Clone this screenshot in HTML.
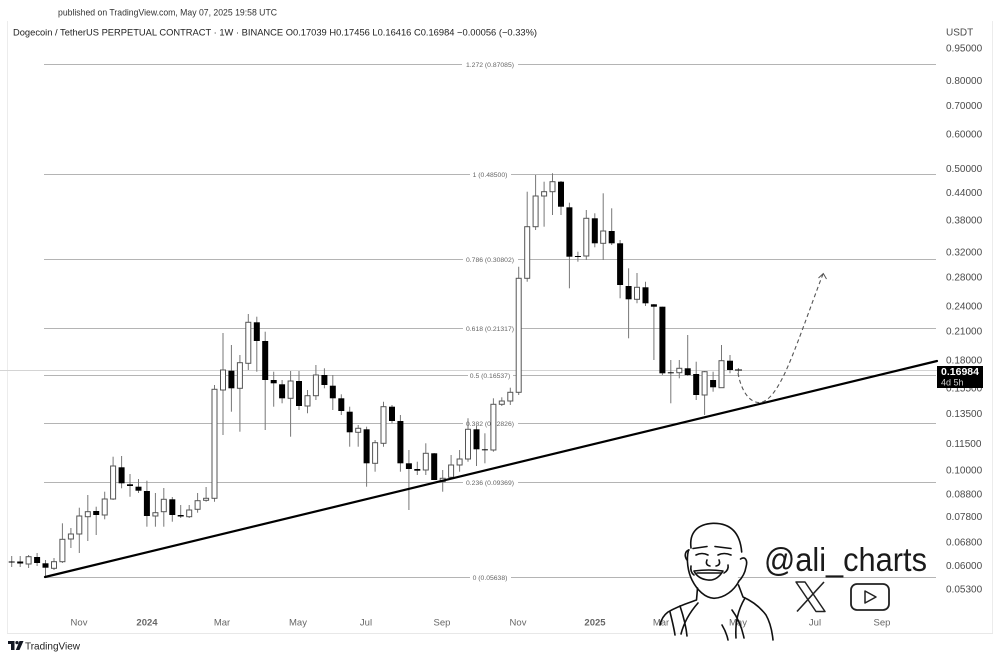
<!DOCTYPE html>
<html><head><meta charset="utf-8">
<style>
html,body{margin:0;padding:0;background:#fff;}
svg{display:block;}
text{font-family:"Liberation Sans",sans-serif;}
.wk{stroke:#777;stroke-width:1;}
.bb{fill:#000;}
.ob{fill:#fff;stroke:#555;stroke-width:1;}
.fib{stroke:#b4b4b4;stroke-width:1;}
.fl{font-size:6.8px;fill:#666;text-anchor:middle;}
.ax{font-size:10px;fill:#4a4a4a;}
.tm{font-size:9.5px;fill:#666;text-anchor:middle;}
.av{fill:none;stroke:#111;stroke-width:1.6;stroke-linecap:round;stroke-linejoin:round;}
</style></head>
<body>
<svg width="1000" height="658" viewBox="0 0 1000 658" xmlns="http://www.w3.org/2000/svg">
<rect x="0" y="0" width="1000" height="658" fill="#fff"/>
<!-- header -->
<text x="58" y="15.5" font-size="9.3" fill="#333" textLength="219" lengthAdjust="spacingAndGlyphs">published on TradingView.com, May 07, 2025 19:58 UTC</text>
<text x="13" y="35.5" font-size="9.5" fill="#222" textLength="524" lengthAdjust="spacingAndGlyphs">Dogecoin / TetherUS PERPETUAL CONTRACT · 1W · BINANCE  O0.17039  H0.17456  L0.16416  C0.16984  −0.00056 (−0.33%)</text>

<!-- frame -->
<line x1="7.5" y1="21" x2="7.5" y2="633" stroke="#ececec"/>
<line x1="7" y1="633.5" x2="993" y2="633.5" stroke="#e8e8e8"/>
<line x1="992.5" y1="21" x2="992.5" y2="633" stroke="#ececec"/>

<!-- current price line -->
<line x1="0" y1="370.5" x2="937" y2="370.5" stroke="#d4d4d4"/>

<!-- fib lines -->
<line class="fib" x1="44" y1="64.5" x2="936" y2="64.5"/>
<line class="fib" x1="44" y1="174.5" x2="936" y2="174.5"/>
<line class="fib" x1="44" y1="259.5" x2="936" y2="259.5"/>
<line class="fib" x1="44" y1="328.5" x2="936" y2="328.5"/>
<line class="fib" x1="44" y1="375.5" x2="936" y2="375.5"/>
<line class="fib" x1="44" y1="423.5" x2="936" y2="423.5"/>
<line class="fib" x1="44" y1="482.5" x2="936" y2="482.5"/>
<line class="fib" x1="44" y1="577.5" x2="936" y2="577.5"/>
<g fill="#fff">
<rect x="462" y="60" width="56" height="9"/>
<rect x="470" y="170" width="41" height="9"/>
<rect x="463" y="255" width="55" height="9"/>
<rect x="463" y="324" width="55" height="9"/>
<rect x="468" y="371" width="45" height="9"/>
<rect x="463" y="419" width="55" height="9"/>
<rect x="463" y="478" width="55" height="9"/>
<rect x="470" y="573" width="41" height="9"/>
</g>
<text class="fl" x="490" y="67">1.272 (0.87085)</text>
<text class="fl" x="490" y="177">1 (0.48500)</text>
<text class="fl" x="490" y="262">0.786 (0.30802)</text>
<text class="fl" x="490" y="331">0.618 (0.21317)</text>
<text class="fl" x="490" y="378">0.5 (0.16537)</text>
<text class="fl" x="490" y="426">0.382 (0.12826)</text>
<text class="fl" x="490" y="485">0.236 (0.09369)</text>
<text class="fl" x="490" y="580">0 (0.05638)</text>

<!-- wicks -->
<g class="wk">
<line x1="11.7" y1="556" x2="11.7" y2="567"/>
<line x1="20.2" y1="556" x2="20.2" y2="567"/>
<line x1="28.6" y1="555" x2="28.6" y2="568"/>
<line x1="37.1" y1="553" x2="37.1" y2="566"/>
<line x1="45.5" y1="560" x2="45.5" y2="576.7"/>
<line x1="54.0" y1="558" x2="54.0" y2="570"/>
<line x1="62.4" y1="523.3" x2="62.4" y2="563"/>
<line x1="70.9" y1="528" x2="70.9" y2="548"/>
<line x1="79.3" y1="507.7" x2="79.3" y2="553"/>
<line x1="87.8" y1="495" x2="87.8" y2="541"/>
<line x1="96.2" y1="506.7" x2="96.2" y2="535"/>
<line x1="104.7" y1="491.7" x2="104.7" y2="519.3"/>
<line x1="113.1" y1="456.7" x2="113.1" y2="500"/>
<line x1="121.6" y1="456" x2="121.6" y2="488.3"/>
<line x1="130.0" y1="474" x2="130.0" y2="496.7"/>
<line x1="138.5" y1="479" x2="138.5" y2="493"/>
<line x1="146.9" y1="480.7" x2="146.9" y2="526.7"/>
<line x1="155.4" y1="493" x2="155.4" y2="526.7"/>
<line x1="163.8" y1="488" x2="163.8" y2="526.7"/>
<line x1="172.3" y1="497" x2="172.3" y2="521.7"/>
<line x1="180.7" y1="505" x2="180.7" y2="518"/>
<line x1="189.2" y1="505" x2="189.2" y2="518"/>
<line x1="197.6" y1="493" x2="197.6" y2="512.7"/>
<line x1="206.1" y1="487" x2="206.1" y2="501.7"/>
<line x1="214.5" y1="385" x2="214.5" y2="501.7"/>
<line x1="223.0" y1="333" x2="223.0" y2="435"/>
<line x1="231.4" y1="345" x2="231.4" y2="411.7"/>
<line x1="239.9" y1="355" x2="239.9" y2="431.7"/>
<line x1="248.3" y1="314" x2="248.3" y2="370"/>
<line x1="256.8" y1="316.7" x2="256.8" y2="371.7"/>
<line x1="265.2" y1="331.7" x2="265.2" y2="430"/>
<line x1="273.7" y1="371.7" x2="273.7" y2="406.7"/>
<line x1="282.1" y1="380" x2="282.1" y2="403.3"/>
<line x1="290.6" y1="371" x2="290.6" y2="436.7"/>
<line x1="299.0" y1="371" x2="299.0" y2="410"/>
<line x1="307.5" y1="390" x2="307.5" y2="413.3"/>
<line x1="315.9" y1="365" x2="315.9" y2="400"/>
<line x1="324.4" y1="368.3" x2="324.4" y2="388.3"/>
<line x1="332.8" y1="375" x2="332.8" y2="410"/>
<line x1="341.3" y1="394.3" x2="341.3" y2="415"/>
<line x1="349.7" y1="406.7" x2="349.7" y2="446.7"/>
<line x1="358.2" y1="425" x2="358.2" y2="446.7"/>
<line x1="366.6" y1="426.7" x2="366.6" y2="486.7"/>
<line x1="375.1" y1="440" x2="375.1" y2="471.7"/>
<line x1="383.5" y1="401.7" x2="383.5" y2="446.7"/>
<line x1="392.0" y1="405" x2="392.0" y2="423.3"/>
<line x1="400.4" y1="415" x2="400.4" y2="471.7"/>
<line x1="408.9" y1="450" x2="408.9" y2="510"/>
<line x1="417.3" y1="461.7" x2="417.3" y2="475"/>
<line x1="425.8" y1="443.3" x2="425.8" y2="475"/>
<line x1="434.2" y1="453" x2="434.2" y2="480"/>
<line x1="442.7" y1="470" x2="442.7" y2="491.7"/>
<line x1="451.1" y1="455" x2="451.1" y2="478"/>
<line x1="459.6" y1="450" x2="459.6" y2="471.7"/>
<line x1="468.0" y1="418.3" x2="468.0" y2="461.7"/>
<line x1="476.5" y1="426" x2="476.5" y2="466"/>
<line x1="484.9" y1="433.3" x2="484.9" y2="463.3"/>
<line x1="493.4" y1="398.3" x2="493.4" y2="451.7"/>
<line x1="501.8" y1="397.3" x2="501.8" y2="406"/>
<line x1="510.3" y1="387.7" x2="510.3" y2="405"/>
<line x1="518.7" y1="266.7" x2="518.7" y2="395"/>
<line x1="527.2" y1="191.7" x2="527.2" y2="281.7"/>
<line x1="535.6" y1="175" x2="535.6" y2="230"/>
<line x1="544.1" y1="181.7" x2="544.1" y2="226.7"/>
<line x1="552.5" y1="173.3" x2="552.5" y2="215"/>
<line x1="561.0" y1="181" x2="561.0" y2="215"/>
<line x1="569.4" y1="202.7" x2="569.4" y2="288.3"/>
<line x1="577.9" y1="251.7" x2="577.9" y2="261.7"/>
<line x1="586.3" y1="210" x2="586.3" y2="260"/>
<line x1="594.8" y1="213.3" x2="594.8" y2="247.3"/>
<line x1="603.2" y1="193.3" x2="603.2" y2="260"/>
<line x1="611.7" y1="208.3" x2="611.7" y2="245"/>
<line x1="620.1" y1="240" x2="620.1" y2="298.3"/>
<line x1="628.6" y1="268.3" x2="628.6" y2="338.3"/>
<line x1="637.0" y1="273" x2="637.0" y2="303.3"/>
<line x1="645.5" y1="281.7" x2="645.5" y2="306"/>
<line x1="653.9" y1="304" x2="653.9" y2="360"/>
<line x1="662.4" y1="306.7" x2="662.4" y2="375"/>
<line x1="670.8" y1="360" x2="670.8" y2="403.3"/>
<line x1="679.3" y1="360" x2="679.3" y2="378.3"/>
<line x1="687.7" y1="335" x2="687.7" y2="376"/>
<line x1="696.2" y1="361.7" x2="696.2" y2="400"/>
<line x1="704.6" y1="371" x2="704.6" y2="415"/>
<line x1="713.1" y1="371.7" x2="713.1" y2="391.7"/>
<line x1="721.5" y1="345" x2="721.5" y2="388"/>
<line x1="730.0" y1="355" x2="730.0" y2="373.3"/>
<line x1="738.4" y1="368" x2="738.4" y2="373"/>
</g>

<!-- black bodies -->
<g class="bb">
<rect x="8.7" y="561.5" width="6" height="1"/>
<rect x="17.2" y="561.5" width="6" height="2"/>
<rect x="34.1" y="557" width="6" height="6"/>
<rect x="42.5" y="563.3" width="6" height="4.4"/>
<rect x="93.2" y="511" width="6" height="4"/>
<rect x="118.6" y="467.3" width="6" height="16"/>
<rect x="127.0" y="484.3" width="6" height="1.7"/>
<rect x="135.5" y="486.7" width="6" height="4"/>
<rect x="143.9" y="491" width="6" height="25"/>
<rect x="169.3" y="499.3" width="6" height="15.7"/>
<rect x="177.7" y="515" width="6" height="1.5"/>
<rect x="228.4" y="370.7" width="6" height="17.6"/>
<rect x="253.8" y="322.3" width="6" height="18.7"/>
<rect x="262.2" y="341" width="6" height="39"/>
<rect x="270.7" y="380" width="6" height="3.3"/>
<rect x="279.1" y="384.3" width="6" height="14"/>
<rect x="296.0" y="381" width="6" height="25"/>
<rect x="321.4" y="375" width="6" height="10"/>
<rect x="329.8" y="385.7" width="6" height="12.6"/>
<rect x="338.3" y="398.3" width="6" height="12.7"/>
<rect x="346.7" y="411.7" width="6" height="20.6"/>
<rect x="363.6" y="429.3" width="6" height="34"/>
<rect x="389.0" y="406.7" width="6" height="14.3"/>
<rect x="397.4" y="421" width="6" height="42.3"/>
<rect x="405.9" y="463.3" width="6" height="5.7"/>
<rect x="414.3" y="469" width="6" height="1.7"/>
<rect x="431.2" y="453.3" width="6" height="26.7"/>
<rect x="473.5" y="429.3" width="6" height="20"/>
<rect x="558.0" y="181.7" width="6" height="25"/>
<rect x="566.4" y="207.3" width="6" height="49.4"/>
<rect x="574.9" y="256" width="6" height="1"/>
<rect x="591.8" y="218.3" width="6" height="25"/>
<rect x="608.7" y="231" width="6" height="12.3"/>
<rect x="617.1" y="243.3" width="6" height="41.7"/>
<rect x="625.6" y="286" width="6" height="13.3"/>
<rect x="642.5" y="287.3" width="6" height="16"/>
<rect x="650.9" y="304.3" width="6" height="2.4"/>
<rect x="659.4" y="306.7" width="6" height="66.6"/>
<rect x="667.8" y="372.3" width="6" height="1"/>
<rect x="684.7" y="368.3" width="6" height="6.7"/>
<rect x="693.2" y="374" width="6" height="21"/>
<rect x="710.1" y="380" width="6" height="7.3"/>
<rect x="727.0" y="360.7" width="6" height="9.3"/>
<rect x="735.0" y="369.5" width="7" height="1"/>
<rect x="481.9" y="449.3" width="6" height="1"/>
</g>

<!-- white bodies -->
<g class="ob">
<rect x="26.1" y="556.7" width="5" height="7.3"/>
<rect x="51.5" y="561.7" width="5" height="6.6"/>
<rect x="59.9" y="539.3" width="5" height="22.4"/>
<rect x="68.4" y="534" width="5" height="5"/>
<rect x="76.8" y="516" width="5" height="18"/>
<rect x="85.3" y="511.7" width="5" height="5"/>
<rect x="102.2" y="499" width="5" height="16"/>
<rect x="110.6" y="466" width="5" height="33"/>
<rect x="152.9" y="512.7" width="5" height="3.3"/>
<rect x="161.3" y="499.3" width="5" height="12.4"/>
<rect x="186.7" y="510" width="5" height="6.7"/>
<rect x="195.1" y="500.7" width="5" height="8.6"/>
<rect x="203.6" y="498.3" width="5" height="2"/>
<rect x="212.0" y="389.3" width="5" height="109"/>
<rect x="220.5" y="370" width="5" height="20"/>
<rect x="237.4" y="362.7" width="5" height="25.6"/>
<rect x="245.8" y="322.3" width="5" height="41"/>
<rect x="288.1" y="381" width="5" height="17.3"/>
<rect x="305.0" y="395.7" width="5" height="10.3"/>
<rect x="313.4" y="375" width="5" height="20.7"/>
<rect x="355.7" y="428.3" width="5" height="4"/>
<rect x="372.6" y="442.7" width="5" height="20.6"/>
<rect x="381.0" y="406.7" width="5" height="36.6"/>
<rect x="423.3" y="453.3" width="5" height="16.7"/>
<rect x="440.2" y="478.3" width="5" height="3.4"/>
<rect x="448.6" y="465" width="5" height="12.3"/>
<rect x="457.1" y="459" width="5" height="6"/>
<rect x="465.5" y="429.3" width="5" height="29.7"/>
<rect x="490.9" y="404.3" width="5" height="45.7"/>
<rect x="499.3" y="401" width="5" height="3.3"/>
<rect x="507.8" y="392.3" width="5" height="8.7"/>
<rect x="516.2" y="278.3" width="5" height="114"/>
<rect x="524.7" y="226.7" width="5" height="51.6"/>
<rect x="533.1" y="196" width="5" height="30.7"/>
<rect x="541.6" y="191.7" width="5" height="4.3"/>
<rect x="550.0" y="181.7" width="5" height="10"/>
<rect x="583.8" y="218.3" width="5" height="37.7"/>
<rect x="600.7" y="231" width="5" height="12.3"/>
<rect x="634.5" y="287.3" width="5" height="12"/>
<rect x="676.8" y="368.3" width="5" height="4.4"/>
<rect x="702.1" y="371.7" width="5" height="23.3"/>
<rect x="719.0" y="360.7" width="5" height="27"/>
</g>

<!-- trend line -->
<line x1="45" y1="577" x2="937" y2="361" stroke="#000" stroke-width="2.2" stroke-linecap="round"/>

<!-- projection -->
<path d="M738,373 C741,390 749,403 760,402.5 C776,401 790,362 800,336 C809,312 816,292 823,274" fill="none" stroke="#555" stroke-width="1.1" stroke-dasharray="4,3"/>
<path d="M818.5,278 L823.3,273.5 L826.5,279" fill="none" stroke="#555" stroke-width="1"/>

<!-- right axis -->
<text class="ax" x="946" y="35.5" font-size="9.5">USDT</text>
<text class="ax" x="946" y="51.7">0.95000</text>
<text class="ax" x="946" y="83.9">0.80000</text>
<text class="ax" x="946" y="108.9">0.70000</text>
<text class="ax" x="946" y="137.7">0.60000</text>
<text class="ax" x="946" y="171.9">0.50000</text>
<text class="ax" x="946" y="195.8">0.44000</text>
<text class="ax" x="946" y="223.3">0.38000</text>
<text class="ax" x="946" y="255.5">0.32000</text>
<text class="ax" x="946" y="280.5">0.28000</text>
<text class="ax" x="946" y="309.4">0.24000</text>
<text class="ax" x="946" y="334.4">0.21000</text>
<text class="ax" x="946" y="363.3">0.18000</text>
<text class="ax" x="946" y="391.3">0.15500</text>
<text class="ax" x="946" y="417.2">0.13500</text>
<text class="ax" x="946" y="447.2">0.11500</text>
<text class="ax" x="946" y="473.3">0.10000</text>
<text class="ax" x="946" y="497.3">0.08800</text>
<text class="ax" x="946" y="519.9">0.07800</text>
<text class="ax" x="946" y="545.6">0.06800</text>
<text class="ax" x="946" y="569.0">0.06000</text>
<text class="ax" x="946" y="592.3">0.05300</text>

<!-- price tag -->
<rect x="937" y="366" width="46" height="22" fill="#000"/>
<text x="941" y="375" font-size="10" fill="#fff" font-weight="bold" textLength="38" lengthAdjust="spacingAndGlyphs">0.16984</text>
<text x="941" y="385.5" font-size="9" fill="#cfcfcf">4d 5h</text>

<!-- time axis -->
<text class="tm" x="79" y="625.5">Nov</text>
<text class="tm" x="147" y="625.5" fill="#333" font-weight="bold">2024</text>
<text class="tm" x="222" y="625.5">Mar</text>
<text class="tm" x="298" y="625.5">May</text>
<text class="tm" x="366" y="625.5">Jul</text>
<text class="tm" x="442" y="625.5">Sep</text>
<text class="tm" x="518" y="625.5">Nov</text>
<text class="tm" x="595" y="625.5" fill="#333" font-weight="bold">2025</text>
<text class="tm" x="661" y="625.5">Mar</text>
<text class="tm" x="738" y="625.5">May</text>
<text class="tm" x="815" y="625.5">Jul</text>
<text class="tm" x="882" y="625.5">Sep</text>

<!-- avatar -->
<path d="M690,560 C686,540 692,527 712,523.5 C730,521 741,532 742,552 C742,575 735,592 716,598 C702,600 692,588 690,574 Z" fill="#fff" stroke="none"/>
<path class="av" d="M691,548 C689,532 698,524 713,523.3 C730,523 740,532 741.7,552"/>
<path class="av" d="M688.5,550 C686,560 688,572 692,580 C697,590 705,598 714,598.3 C725,598 734,590 738.5,582"/>
<path class="av" d="M740.5,559 C745,556 748,560 746,567 C745,573 742,578 738.5,581.5"/>
<path class="av" d="M689,550 C685,551 684,556 687,560"/>
<path class="av" d="M693,548.5 L707,546.5" stroke-width="2.4"/>
<path class="av" d="M715,546.5 L731,548.5" stroke-width="2.4"/>
<path class="av" d="M696,555 Q702,552 708,555"/>
<path class="av" d="M718,555 Q724,552 731,555"/>
<path class="av" d="M707,560 Q705,565 710,566 M716,566 Q721,565 719,560"/>
<path class="av" d="M694,571 Q709,569 723,571 Q717,581 708,580 Q698,579 694,571 Z"/>
<path class="av" d="M697,573 L721,573" stroke-width="1"/>
<path class="av" d="M691,566 Q690,572 694,575 M724,573 Q729,570 728,565"/>
<path class="av" d="M697.5,588 L696.5,600 C688,603 678,606 668,612 C664,615 661,620 660,625"/>
<path class="av" d="M738.5,585 L743,597 C752,601 760,607 766,615 C770,622 772,630 773,640"/>
<path class="av" d="M680,606 C683,615 686,625 687,636"/>
<path class="av" d="M698,603 C690,612 684,622 681,634"/>
<path class="av" d="M670,612 C672,620 674,628 675,635"/>
<path class="av" d="M732,610 C738,618 742,628 744,638"/>
<path class="av" d="M745,598 C738,610 735,622 736,638"/>
<path class="av" d="M722,625 C725,630 727,635 728,640"/>

<!-- watermark -->
<text x="764" y="571" font-size="33" fill="#1a1a1a" textLength="163" lengthAdjust="spacingAndGlyphs">@ali_charts</text>
<path d="M796,582 L805,582 L825,611.5 L816,611.5 Z" fill="none" stroke="#222" stroke-width="1.5" stroke-linejoin="round"/>
<line x1="824" y1="582" x2="797" y2="611.5" stroke="#222" stroke-width="1.6"/>
<rect x="851" y="584" width="38" height="26" rx="6" fill="none" stroke="#222" stroke-width="1.8"/>
<path d="M865,591 L876,597 L865,603 Z" fill="none" stroke="#222" stroke-width="1.5" stroke-linejoin="round"/>

<!-- TradingView footer -->
<rect x="8" y="641" width="6.5" height="3" fill="#131722"/>
<rect x="11" y="641" width="3.5" height="9" fill="#131722"/>
<circle cx="17" cy="642.6" r="1.6" fill="#131722"/>
<path d="M19.5,641 L23.5,641 L19.5,650 L15.8,650 Z" fill="#131722"/>
<text x="25" y="649.5" font-size="10.5" fill="#222" textLength="55" lengthAdjust="spacingAndGlyphs">TradingView</text>
</svg>
</body></html>
